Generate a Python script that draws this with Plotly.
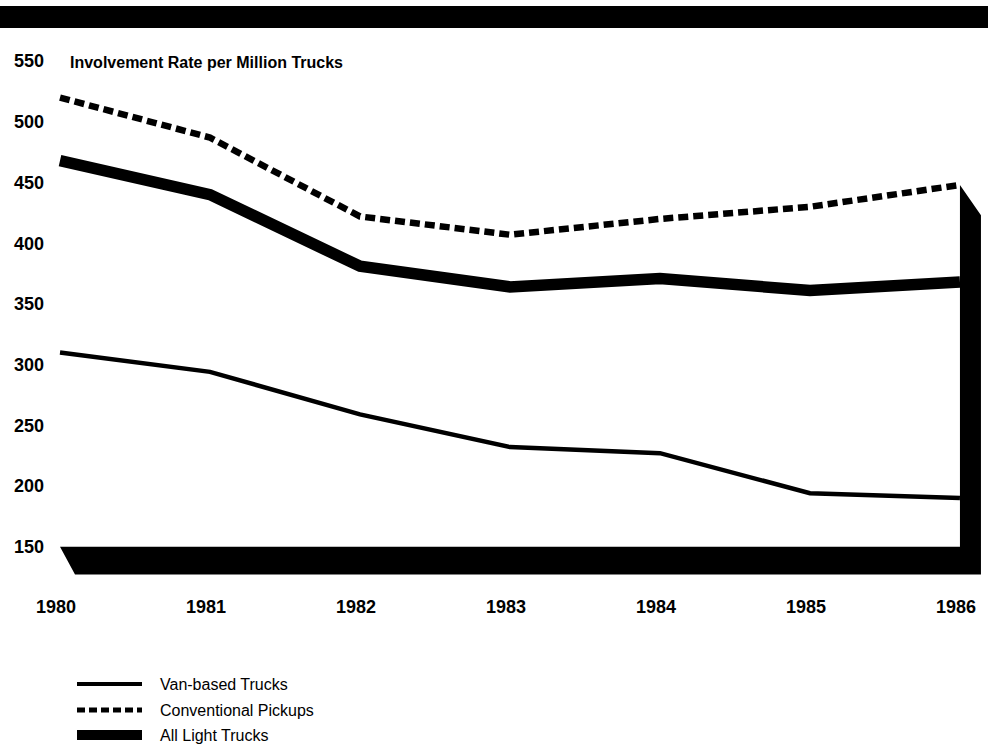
import plotly.graph_objects as go

# ---- data ----
years = [1980, 1981, 1982, 1983, 1984, 1985, 1986]
van_based = [310, 294, 259, 232, 227, 194, 190]
conventional_pickups = [520, 487, 422, 407, 420, 430, 448]
all_light_trucks = [468, 440, 381, 364, 371, 361, 368]
series_names = ["Van-based Trucks", "Conventional Pickups", "All Light Trucks"]
y_ticks = [150, 200, 250, 300, 350, 400, 450, 500, 550]
x_tick_labels = ["1980", "1981", "1982", "1983", "1984", "1985", "1986"]
chart_title = "Involvement Rate per Million Trucks"

W, H = 988, 755
ML, MR, MT, MB = 45, 0, 49, 178
PW, PH = W - ML - MR, H - MT - MB


def px_x(p):
    return (p - ML) / PW


def px_y(p):
    return (H - MB - p) / PH


FONT = "Liberation Sans, Arial, Helvetica, sans-serif"

fig = go.Figure()

styles = [
    dict(width=4.5, dash="solid"),
    dict(width=6.5, dash="10px,5px"),
    dict(width=11.5, dash="solid"),
]
values = [van_based, conventional_pickups, all_light_trucks]

for name, vals, st in zip(series_names, values, styles):
    fig.add_trace(go.Scatter(
        x=years, y=vals, mode="lines", name=name,
        line=dict(color="black", width=st["width"], dash=st["dash"]),
        showlegend=False, hoverinfo="x+y+name",
    ))

shapes = []
# 3D floor and right wall
shapes.append(dict(
    type="path", xref="x", yref="y", layer="below",
    path="M 1980,150 L 1986,150 L 1986,448 L 1986.14,423 L 1986.14,127 L 1980.1,127 Z",
    fillcolor="black", line=dict(width=0),
))
# top black band
shapes.append(dict(
    type="rect", xref="paper", yref="paper",
    x0=px_x(0), x1=px_x(W), y0=px_y(28), y1=px_y(6),
    fillcolor="black", line=dict(width=0),
))

annotations = [dict(
    text="<b>" + chart_title + "</b>", xref="paper", yref="paper",
    x=px_x(68), y=px_y(62), xanchor="left", yanchor="middle",
    showarrow=False, font=dict(family=FONT, size=16, color="black"),
)]

# manual legend
leg_rows = [684, 710, 735]
leg_widths = [4, 5, 10]
for name, st, py, lw in zip(series_names, styles, leg_rows, leg_widths):
    shapes.append(dict(
        type="line", xref="paper", yref="paper",
        x0=px_x(77), x1=px_x(142), y0=px_y(py), y1=px_y(py),
        line=dict(color="black", width=lw, dash="8px,4px" if st["dash"] != "solid" else "solid"),
    ))
    annotations.append(dict(
        text=name, xref="paper", yref="paper",
        x=px_x(158), y=px_y(py), xanchor="left", yanchor="middle",
        showarrow=False, font=dict(family=FONT, size=16, color="black"),
    ))

fig.update_layout(
    width=W, height=H,
    margin=dict(l=ML, r=MR, t=MT, b=MB, pad=0),
    paper_bgcolor="white", plot_bgcolor="white",
    shapes=shapes, annotations=annotations,
    showlegend=False,
    xaxis=dict(
        range=[1979.9, 1986.187], tickmode="array", tickvals=years,
        ticktext=["<b>%s</b>" % t for t in x_tick_labels],
        showgrid=False, zeroline=False, showline=False, ticks="",
        ticklabelstandoff=17, ticklabelshift=-4,
        tickfont=dict(family=FONT, size=18, color="black"),
    ),
    yaxis=dict(
        range=[125, 560], tickmode="array", tickvals=y_ticks,
        ticktext=["<b>%d</b>" % v for v in y_ticks],
        showgrid=False, zeroline=False, showline=False, ticks="",
        tickfont=dict(family=FONT, size=18, color="black"),
    ),
)

fig.write_html(
    "out.html",
    config={"displayModeBar": False},
    post_script="document.body.style.margin='0';document.body.style.overflow='hidden';",
)
